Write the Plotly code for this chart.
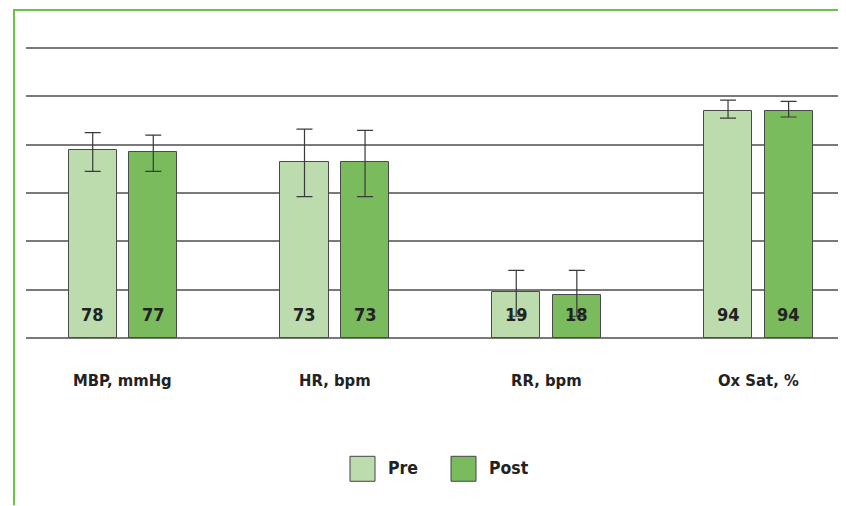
import plotly.graph_objects as go

categories = ["MBP, mmHg", "HR, bpm", "RR, bpm", "Ox Sat, %"]
pre_values = [78, 73, 19, 94]
post_values = [77, 73, 18, 94]
pre_upper = [85, 86.5, 28, 98.5]
pre_lower = [69, 58.5, 9, 91]
post_upper = [84, 86, 28, 98]
post_lower = [69, 58.5, 9, 91.5]
series_names = ["Pre", "Post"]
y_ticks = [0, 20, 40, 60, 80, 100, 120]

PRE_COLOR = "#bddcae"
POST_COLOR = "#79bb5d"
FONT = "DejaVu Sans Condensed, Liberation Sans Narrow, Arial Narrow, sans-serif"

idx = list(range(len(categories)))
offset = 0.143
bw = 0.227

# page has an 8px body margin; figure coordinates = screen - 8
OFF = 8
W, H = 846 - OFF, 506 - OFF
L, T = 26 - OFF, 24 - OFF
BASE = 338.5 - OFF

fig = go.Figure()
for name, vals, hi, lo, col, sgn in [
    (series_names[0], pre_values, pre_upper, pre_lower, PRE_COLOR, -1),
    (series_names[1], post_values, post_upper, post_lower, POST_COLOR, 1),
]:
    xs = [i + sgn * offset for i in idx]
    fig.add_trace(go.Bar(
        x=xs, y=vals, width=bw, name=name,
        marker=dict(color=col, line=dict(color="#4a4a4a", width=1)),
        error_y=dict(type="data", symmetric=False,
                     array=[h - v for h, v in zip(hi, vals)],
                     arrayminus=[v - l for v, l in zip(vals, lo)],
                     color="#3a3a3a", thickness=1.2, width=8),
        showlegend=False,
    ))
    for x, v in zip(xs, vals):
        fig.add_annotation(x=x, y=0, xref="x", yref="y", text=f"<b>{v}</b>",
                           showarrow=False, yanchor="bottom", yshift=11,
                           font=dict(family=FONT, size=18, color="#222222"))

# category labels
for i, c in zip(idx, categories):
    fig.add_annotation(x=i, y=0, xref="x", yref="y", text=f"<b>{c}</b>",
                       showarrow=False, yanchor="middle", yshift=-42,
                       font=dict(family=FONT, size=16.5, color="#222222"))

plot_w = W - L
plot_h = BASE - T
def px(xs):
    return (xs - OFF - L) / plot_w
def py(ys):
    return (BASE - (ys - OFF)) / plot_h

# custom legend (screen coordinates)
shapes = []
leg = [(350, 375, PRE_COLOR, series_names[0], 386), (451, 476, POST_COLOR, series_names[1], 487)]
for x0, x1, col, name, tx in leg:
    shapes.append(dict(type="rect", xref="paper", yref="paper",
                       x0=px(x0), x1=px(x1), y0=py(482), y1=py(457),
                       fillcolor=col, line=dict(color="#444444", width=1)))
    fig.add_annotation(x=px(tx), y=py(469), xref="paper", yref="paper",
                       text=f"<b>{name}</b>", showarrow=False,
                       xanchor="left", yanchor="middle",
                       font=dict(family=FONT, size=17.5, color="#222222"))

# green frame
shapes.append(dict(type="line", xref="paper", yref="paper",
                   x0=px(14), x1=px(14), y0=py(10), y1=py(506),
                   line=dict(color="#6cc04a", width=2)))
shapes.append(dict(type="line", xref="paper", yref="paper",
                   x0=px(13), x1=px(846), y0=py(10), y1=py(10),
                   line=dict(color="#6cc04a", width=2)))

fig.update_layout(
    width=W, height=H,
    margin=dict(l=L, r=0, t=T, b=H - BASE),
    plot_bgcolor="white", paper_bgcolor="white",
    shapes=shapes,
    bargap=0,
    xaxis=dict(range=[-0.458, 3.414], showticklabels=False, showgrid=False,
               zeroline=False, showline=False, ticks=""),
    yaxis=dict(range=[0, 130], tickvals=y_ticks, showticklabels=False,
               showgrid=True, gridcolor="#7a7a7a", gridwidth=1.5,
               zeroline=True, zerolinecolor="#7a7a7a", zerolinewidth=1.5,
               showline=False, ticks=""),
)

fig.write_html("out.html")
